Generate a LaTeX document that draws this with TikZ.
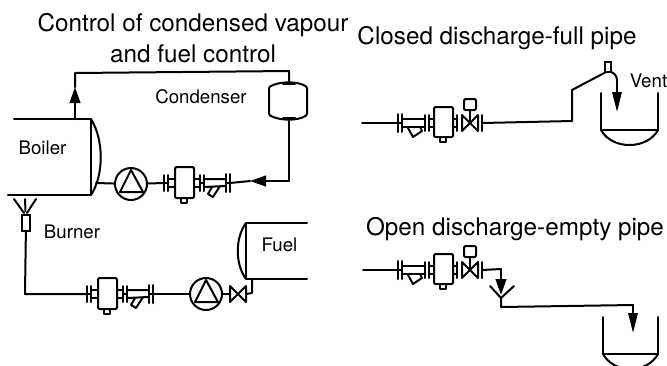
\documentclass[tikz,border=0pt]{standalone}
\usepackage{fontspec}
\setmainfont{TeX Gyre Heros}
\usetikzlibrary{arrows.meta}
\tikzset{
  pipe/.style={line width=1.5pt,line join=round,line cap=round},
  thin pipe/.style={line width=1pt},
  flow/.style={pipe,-{Triangle[length=15pt,width=7pt]}},
  flowshort/.style={pipe,-{Triangle[length=12pt,width=8pt]}},
  titletext/.style={font=\fontsize{18.2}{20}\selectfont,inner sep=0pt,anchor=center},
  labeltext/.style={font=\fontsize{14}{16}\selectfont,inner sep=0pt,anchor=center},
  pump/.style={draw,circle,line width=1.5pt,minimum size=24pt,inner sep=0pt},
  pics/meterfwd/.style={code={
    \coordinate (in) at (0,0); \coordinate (out) at (66,0);
    \draw[pipe] (0,-8)--(0,8) (4,-8)--(4,8) (62,-9)--(62,9) (66,-9)--(66,9) (36,-8)--(36,8) (40,-8)--(40,8);
    \draw[thin pipe] (0,0)--(4,0) (36,0)--(40,0) (62,0)--(66,0);
    \draw[pipe] (4,-4) rectangle (11,4) (30,-4) rectangle (36,4);
    \draw[pipe,fill=white,rounded corners=1pt] (11,-16) rectangle (30,15);
    \draw[pipe] (17,15) rectangle (23,20);
    \draw[pipe] (40,-4)--(62,-4) (40,4)--(62,3);
    \draw[pipe] (48,4)--(44,11)--(49,14)--(56,3);
  }},
  pics/meterrev/.style={code={
    \coordinate (in) at (0,0); \coordinate (out) at (84,0);
    \draw[pipe] (0,-9)--(0,9) (4,-9)--(4,9) (27,-8)--(27,8) (31,-8)--(31,8) (59,-8)--(59,8) (84,-8)--(84,8);
    \draw[thin pipe] (0,0)--(4,0);
    \draw[pipe] (4,-4)--(27,-4) (4,4)--(27,4);
    \draw[pipe] (10,5)--(15,14)--(24,8)--(22,4);
    \draw[pipe] (31,-4) rectangle (36,4) (55,-4) rectangle (59,4);
    \draw[pipe,fill=white,rounded corners=1pt] (36,-16) rectangle (55,14);
    \draw[pipe] (42,14) rectangle (48,19);
    \draw[pipe] (64,-8)--(80,8)--(80,-8)--(64,8)--cycle;
    \draw[pipe] (72,0)--(72,-13);
    \draw[pipe,rounded corners=1pt] (66,-24) rectangle (78,-13);
  }},
  pics/valve/.style={code={
    \coordinate (in) at (-8,0); \coordinate (out) at (8,0);
    \draw[pipe] (-8,-8)--(8,8)--(8,-8)--(-8,8)--cycle;
  }},
}
\begin{document}
\begin{tikzpicture}[x=0.75pt,y=-0.75pt]
\useasboundingbox (0,0) rectangle (667,365);

% Titles and labels
\node[titletext] (t1) at (193,25) {Control of condensed vapour};
\node[titletext] (t2) at (193,54) {and fuel control};
\node[titletext] (t3) at (497,38) {Closed discharge-full pipe};
\node[titletext] (t4) at (515,229) {Open discharge-empty pipe};
\node[labeltext] (lcond) at (201,97) {Condenser};
\node[labeltext] (lboil) at (42.5,148) {Boiler};
\node[labeltext] (lburn) at (72,232) {Burner};
\node[labeltext] (lfuel) at (279.5,245) {Fuel};
\node[labeltext] (lvent) at (648.5,81) {Vent};

% Boiler
\coordinate (bA) at (14,119);
\coordinate (bB) at (91,119);
\coordinate (bC) at (91,195);
\coordinate (bD) at (8,195);
\coordinate (bOut) at (75,119);
\coordinate (bRet) at (96,183);
\draw[pipe] (bA)--(bB)--(bC)--(bD);
\draw[pipe] (bB) .. controls (104,140) and (104,175) .. (bC);

% Condenser
\coordinate (cT) at (289,81);
\coordinate (cB) at (289,121);
\draw[pipe,rounded corners=1pt] (269,87) .. controls (280,81) and (298,81) .. (307,87) -- (307,115) .. controls (298,121) and (280,121) .. (269,115) -- cycle;
\draw[pipe] (283,84)--(295,84) (283,118)--(295,118);

% Top loop
\coordinate (a1) at (75,87);
\coordinate (a2) at (75,73);
\coordinate (a3) at (289,71);
\coordinate (a4) at (289,181);
\coordinate (a5) at (250,181);
\draw[flowshort] (bOut)--(a1);
\draw[pipe] (a1)--(a2)--(a3)--(cT);
\draw[pipe] (cB)--(a4);
\draw[flowshort] (a4)--(a5);
\pic (m) at (164,183) {meterfwd};
\draw[pipe] (a5)--(mout);
\node[pump] (p1) at (131,184) {};
\draw[pipe] (131,170)--(120,192)--(143,192)--cycle;
\draw[pipe] (bRet)--(p1);
\draw[pipe] (p1)--(min);

% Burner
\coordinate (fL) at (14,199);
\coordinate (fC) at (25,199);
\coordinate (fR) at (36,199);
\coordinate (fLb) at (24,213);
\coordinate (fCb) at (25.5,211);
\coordinate (fRb) at (27,213);
\draw[pipe] (fL)--(fLb) (fC)--(fCb) (fR)--(fRb);
\node[draw,line width=1.5pt,minimum width=6pt,minimum height=12pt,inner sep=0pt] (noz) at (26,223) {};

% Bottom line
\coordinate (l1) at (25,294);
\pic (n) at (87,294) {meterfwd};
\draw[pipe] (noz)--(l1)--(nin);
\node[pump] (p2) at (206,294) {};
\draw[pipe] (206,280)--(195,302)--(218,302)--cycle;
\draw[pipe] (nout)--(p2);
\pic (v) at (238,294) {valve};
\draw[pipe] (p2)--(vin);
\coordinate (l2) at (252,293);
\coordinate (l3) at (252,279);
\draw[pipe] (vout)--(l2)--(l3);

% Fuel tank
\coordinate (ftT) at (246,223);
\coordinate (ftB) at (246,279);
\draw[pipe] (307,223)--(ftT)--(ftB)--(307,279);
\draw[pipe] (ftT) .. controls (235,238) and (235,264) .. (ftB);

% Closed discharge
\coordinate (r0) at (362,123);
\pic (q) at (398,123) {meterrev};
\draw[pipe] (r0)--(qin);
\coordinate (r1) at (572,121);
\coordinate (r2) at (572,90);
\coordinate (r3) at (608,71);
\coordinate (r4) at (617,80);
\coordinate (r5) at (617,112);
\draw[pipe] (qout)--(r1)--(r2)--(r3);
\draw[pipe] (r3) .. controls (613,72) and (617,75) .. (r4);
\draw[flow] (r4)--(r5);
\node[draw,line width=1.5pt,fill=white,minimum width=4pt,minimum height=8pt,inner sep=0pt] (vnt) at (608,67) {};

% Closed tank
\coordinate (s1) at (601,93);
\coordinate (s2) at (601,130);
\coordinate (s3) at (658,130);
\coordinate (s4) at (658,93);
\draw[pipe] (s1)--(s2)--(s3)--(s4);
\draw[pipe] (s2) .. controls (612,150) and (647,150) .. (s3);

% Open discharge
\coordinate (u0) at (363,270);
\pic (w) at (398,270) {meterrev};
\draw[pipe] (u0)--(win);
\coordinate (u1) at (501,269);
\coordinate (u2) at (501,295);
\draw[pipe] (wout)--(u1);
\draw[flowshort] (u1)--(u2);
\coordinate (uF) at (501,298);
\coordinate (uFl) at (490,286);
\coordinate (uFr) at (514,286);
\draw[pipe] (uFl)--(uF)--(uFr);
\coordinate (u3) at (501,307);
\coordinate (u4) at (633,305);
\coordinate (u5) at (633,333);
\draw[pipe] (uF)--(u3)--(u4);
\draw[flow] (u4)--(u5);

% Open tank
\coordinate (o1) at (603,317);
\coordinate (o2) at (603,354);
\coordinate (o3) at (658,354);
\coordinate (o4) at (658,317);
\draw[pipe] (o1)--(o2)--(o3)--(o4);
\draw[pipe] (o2) .. controls (614,374) and (647,374) .. (o3);
\end{tikzpicture}
\end{document}
